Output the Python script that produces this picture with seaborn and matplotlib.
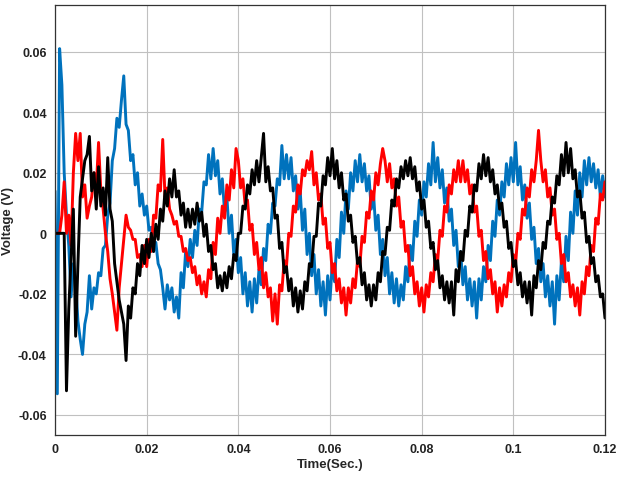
import numpy as np
import pandas as pd
import matplotlib
matplotlib.use('Agg')
import matplotlib.pyplot as plt
import matplotlib.ticker as mticker
import seaborn as sns

# time step of the read-off samples (s)
dt = 0.0005

# phase voltages, one row = 0.005 s (10 samples)
blue_v = [
    0.014, -0.053, 0.061, 0.049, 0.02, 0.006, -0.004, -0.021, -0.01, -0.016,
    -0.029, -0.035, -0.04, -0.03, -0.026, -0.014, -0.025, -0.018, -0.02, -0.013,
    -0.014, -0.005, -0.004, 0.006, 0.01, 0.024, 0.028, 0.038, 0.035, 0.044,
    0.052, 0.036, 0.034, 0.024, 0.026, 0.016, 0.02, 0.009, 0.013, 0.006,
    0.009, 0.001, 0.002, -0.006, -0.003, -0.01, -0.012, -0.018, -0.025, -0.017,
    -0.022, -0.018, -0.026, -0.021, -0.028, -0.013, -0.018, -0.006, -0.011, -0.002,
    -0.008, 0.001, -0.004, 0.008, 0.007, 0.017, 0.016, 0.026, 0.018, 0.028,
    0.019, 0.024, 0.013, 0.018, 0.007, 0.012, 0.0, 0.006, -0.007, -0.002,
    -0.013, -0.008, -0.02, -0.013, -0.024, -0.016, -0.026, -0.015, -0.023, -0.012,
    -0.017, -0.005, -0.009, 0.003, 0.0, 0.01, 0.009, 0.018, 0.016, 0.029,
    0.018, 0.026, 0.018, 0.025, 0.014, 0.019, 0.008, 0.014, 0.001, 0.008,
    -0.007, 0.0, -0.014, -0.007, -0.02, -0.012, -0.024, -0.016, -0.027, -0.014,
    -0.022, -0.01, -0.016, -0.002, -0.008, 0.007, 0.0, 0.014, 0.008, 0.02,
    0.014, 0.024, 0.017, 0.026, 0.017, 0.023, 0.014, 0.019, 0.008, 0.013,
    0.001, 0.006, -0.007, -0.002, -0.014, -0.008, -0.02, -0.013, -0.023, -0.015,
    -0.024, -0.017, -0.022, -0.011, -0.016, -0.004, -0.009, 0.004, -0.001, 0.011,
    0.006, 0.017, 0.012, 0.023, 0.016, 0.03, 0.017, 0.025, 0.015, 0.021,
    0.01, 0.015, 0.004, 0.008, -0.004, 0.001, -0.011, -0.006, -0.017, -0.011,
    -0.022, -0.015, -0.024, -0.016, -0.028, -0.015, -0.022, -0.011, -0.016, -0.004,
    -0.009, 0.004, -0.001, 0.011, 0.006, 0.017, 0.012, 0.023, 0.016, 0.025,
    0.017, 0.03, 0.016, 0.022, 0.011, 0.016, 0.005, 0.01, -0.002, 0.002,
    -0.01, -0.005, -0.016, -0.01, -0.021, -0.014, -0.024, -0.016, -0.03, -0.014,
    -0.022, -0.009, -0.016, -0.001, -0.009, 0.007, 0.0, 0.014, 0.006, 0.02,
    0.012, 0.024, 0.016, 0.025, 0.017, 0.023, 0.015, 0.021, 0.012, 0.019,
    0.012,
]

red_v = [
    0.0, 0.0, 0.0, 0.006, 0.017, 0.0, 0.006, -0.004, 0.02, 0.033,
    0.024, 0.033, 0.012, 0.016, 0.005, 0.009, 0.012, 0.02, 0.015, 0.03,
    0.014, 0.008, 0.0, -0.006, -0.015, -0.02, -0.026, -0.032, -0.018, -0.01,
    -0.002, 0.006, 0.002, 0.001, -0.002, -0.002, -0.008, -0.007, -0.011, -0.004,
    -0.011, -0.002, -0.006, 0.006, 0.005, 0.016, 0.014, 0.031, 0.012, 0.015,
    0.008, 0.006, 0.003, 0.004, -0.001, -0.001, -0.006, -0.005, -0.009, -0.008,
    -0.013, -0.011, -0.017, -0.014, -0.02, -0.016, -0.021, -0.012, -0.015, -0.003,
    -0.007, 0.005, 0.0, 0.009, 0.005, 0.016, 0.011, 0.021, 0.015, 0.028,
    0.024, 0.015, 0.018, 0.009, 0.011, 0.001, 0.003, -0.007, -0.003, -0.012,
    -0.008, -0.018, -0.013, -0.021, -0.018, -0.029, -0.02, -0.03, -0.017, -0.019,
    -0.009, -0.011, 0.0, -0.001, 0.009, 0.007, 0.016, 0.013, 0.021, 0.019,
    0.024, 0.021, 0.027, 0.016, 0.02, 0.011, 0.013, 0.003, 0.005, -0.005,
    -0.003, -0.013, -0.01, -0.019, -0.015, -0.023, -0.018, -0.027, -0.018, -0.023,
    -0.015, -0.018, -0.009, -0.011, -0.001, -0.003, 0.007, 0.005, 0.014, 0.011,
    0.02, 0.016, 0.023, 0.028, 0.024, 0.017, 0.023, 0.015, 0.018, 0.009,
    0.012, 0.002, 0.004, -0.006, -0.004, -0.014, -0.011, -0.02, -0.016, -0.024,
    -0.018, -0.026, -0.017, -0.021, -0.013, -0.016, -0.007, -0.009, 0.001, -0.001,
    0.009, 0.007, 0.016, 0.013, 0.021, 0.017, 0.024, 0.017, 0.024, 0.017,
    0.021, 0.013, 0.016, 0.007, 0.009, -0.001, 0.001, -0.009, -0.006, -0.015,
    -0.012, -0.02, -0.016, -0.026, -0.018, -0.024, -0.017, -0.021, -0.013, -0.016,
    -0.007, -0.01, 0.0, -0.002, 0.008, 0.006, 0.015, 0.012, 0.021, 0.017,
    0.024, 0.034, 0.024, 0.017, 0.021, 0.012, 0.015, 0.006, 0.008, -0.002,
    0.0, -0.01, -0.007, -0.016, -0.013, -0.021, -0.017, -0.024, -0.018, -0.027,
    -0.016, -0.02, -0.011, -0.014, -0.004, -0.006, 0.005, 0.003, 0.013, 0.011,
    0.017,
]

black_v = [
    0.0, 0.0, 0.0, 0.0, 0.0, -0.052, -0.025, -0.008, 0.008, -0.034,
    -0.01, 0.012, 0.018, 0.024, 0.026, 0.032, 0.014, 0.02, 0.008, 0.022,
    0.009, 0.015, 0.006, 0.025, 0.008, 0.004, -0.01, -0.016, -0.022, -0.026,
    -0.03, -0.042, -0.024, -0.028, -0.018, -0.02, -0.01, -0.014, -0.004, -0.01,
    -0.002, -0.008, 0.0, -0.006, 0.003, -0.002, 0.008, 0.004, 0.014, 0.009,
    0.018, 0.012, 0.021, 0.012, 0.014, 0.006, 0.01, 0.002, 0.008, 0.002,
    0.008, 0.003, 0.01, 0.004, 0.007, -0.001, 0.003, -0.006, -0.004, -0.012,
    -0.01, -0.018, -0.014, -0.019, -0.013, -0.018, -0.011, -0.015, -0.007, -0.009,
    0.0, 0.0, 0.009, 0.008, 0.016, 0.013, 0.021, 0.016, 0.024, 0.017,
    0.025, 0.033, 0.017, 0.022, 0.014, 0.015, 0.005, 0.006, -0.005, -0.003,
    -0.013, -0.011, -0.019, -0.015, -0.024, -0.018, -0.026, -0.019, -0.025, -0.016,
    -0.019, -0.01, -0.011, -0.001, -0.001, 0.01, 0.009, 0.019, 0.016, 0.025,
    0.019, 0.028, 0.018, 0.024, 0.015, 0.02, 0.011, 0.013, 0.004, 0.006,
    -0.003, -0.001, -0.01, -0.008, -0.017, -0.013, -0.022, -0.017, -0.024, -0.017,
    -0.022, -0.013, -0.016, -0.006, -0.007, 0.002, 0.001, 0.011, 0.009, 0.018,
    0.015, 0.022, 0.018, 0.024, 0.019, 0.025, 0.018, 0.022, 0.014, 0.017,
    0.008, 0.011, 0.002, 0.004, -0.005, -0.003, -0.012, -0.009, -0.018, -0.014,
    -0.022, -0.016, -0.023, -0.016, -0.027, -0.012, -0.016, -0.006, -0.009, 0.001,
    -0.001, 0.009, 0.007, 0.016, 0.014, 0.023, 0.018, 0.026, 0.019, 0.025,
    0.017, 0.021, 0.013, 0.016, 0.008, 0.01, 0.002, 0.004, -0.005, -0.003,
    -0.011, -0.009, -0.017, -0.013, -0.021, -0.016, -0.023, -0.016, -0.027, -0.014,
    -0.018, -0.009, -0.012, -0.003, -0.005, 0.004, 0.003, 0.012, 0.01, 0.019,
    0.016, 0.026, 0.019, 0.03, 0.02, 0.028, 0.018, 0.021, 0.012, 0.014,
    0.005, 0.007, -0.003, -0.001, -0.01, -0.008, -0.016, -0.014, -0.021, -0.02,
    -0.028,
]

time_s = np.arange(len(black_v)) * dt

# long-form table for seaborn
df = pd.concat([
    pd.DataFrame({'Time': time_s, 'Voltage': blue_v, 'phase': 'a'}),
    pd.DataFrame({'Time': time_s, 'Voltage': red_v, 'phase': 'b'}),
    pd.DataFrame({'Time': time_s, 'Voltage': black_v, 'phase': 'c'}),
])

sns.set_style("whitegrid")
plt.rcParams['font.family'] = ['Liberation Sans', 'DejaVu Sans']

fig = plt.figure(figsize=(6.21, 4.81), dpi=100)
ax = fig.add_axes([0.0886, 0.0936, 0.8856, 0.8939])

sns.lineplot(data=df, x='Time', y='Voltage', hue='phase',
             hue_order=['a', 'b', 'c'],
             palette={'a': '#0072BD', 'b': '#FF0000', 'c': '#000000'},
             estimator=None, sort=False, linewidth=2.1, legend=False, ax=ax)

ax.set_xlim(0, 0.12)
ax.set_ylim(-0.0666, 0.0754)
ax.set_xticks([0, 0.02, 0.04, 0.06, 0.08, 0.1, 0.12])
ax.set_yticks([-0.06, -0.04, -0.02, 0, 0.02, 0.04, 0.06])
ax.xaxis.set_major_formatter(mticker.FormatStrFormatter('%g'))
ax.yaxis.set_major_formatter(mticker.FormatStrFormatter('%g'))

ax.grid(True, color='#c0c0c0', linewidth=0.8)
for s in ax.spines.values():
    s.set_color('#333333')
    s.set_linewidth(0.9)
ax.tick_params(axis='both', labelsize=9, direction='in', length=3,
               colors='#222222', pad=6)
for lab in ax.get_xticklabels() + ax.get_yticklabels():
    lab.set_fontweight('bold')

ax.set_xlabel('Time(Sec.)', fontsize=9.5, fontweight='bold', labelpad=2)
ax.set_ylabel('Voltage (V)', fontsize=9.5, fontweight='bold', labelpad=3)

fig.savefig('out.png', dpi=100)
